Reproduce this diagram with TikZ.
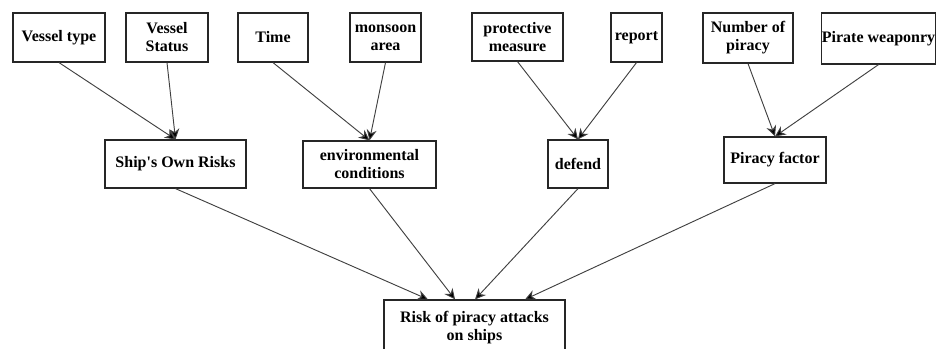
\documentclass[tikz,border=0pt]{standalone}
\usepackage{fontspec}
\setmainfont{Liberation Serif}
\usetikzlibrary{arrows.meta}

\begin{document}
\begin{tikzpicture}[x=0.75pt, y=-0.75pt,
    box/.style={draw=black!85, line width=0.9pt, align=center, inner sep=0pt,
        font=\bfseries\fontsize{12}{13.5}\selectfont},
    link/.style={draw=black!75, line width=0.7pt, -{Stealth[length=8pt, width=7.5pt, fill=black]}}]
    \useasboundingbox (0, 0) rectangle (937, 349);
    \clip (0, 0) rectangle (937, 349);

    \node[box, minimum width=69pt, minimum height=36.75pt] (vtype) at (59, 37.5) {Vessel type};
    \node[box, minimum width=61.5pt, minimum height=36.75pt] (vstatus) at (167, 37.5) {Vessel\\Status};
    \node[box, minimum width=52.5pt, minimum height=36.75pt] (time) at (273, 37.5) {Time};
    \node[box, minimum width=53.25pt, minimum height=36.75pt] (monsoon) at (385.5, 37.5) {monsoon\\area};
    \node[box, minimum width=68.25pt, minimum height=36pt] (protect) at (517.5, 37) {protective\\measure};
    \node[box, minimum width=38.25pt, minimum height=36.75pt] (report) at (636.5, 37.5) {report};
    \node[box, minimum width=67.5pt, minimum height=37.5pt] (numpir) at (748, 38) {Number of\\piracy};
    \node[box, minimum width=84.75pt, minimum height=38.25pt] (weapon) at (878.5, 38.5) {Pirate weaponry};

    \node[box, minimum width=105.75pt, minimum height=36pt] (ownrisk) at (175.5, 164) {Ship\textquotesingle s Own Risks};
    \node[box, minimum width=99.75pt, minimum height=35.25pt] (envcond) at (369.5, 164.5) {environmental\\conditions};
    \node[box, minimum width=45pt, minimum height=36pt] (defend) at (578, 164) {defend};
    \node[box, minimum width=76.5pt, minimum height=34.5pt] (pirfac) at (775, 160) {Piracy factor};

    \node[box, minimum width=135.75pt, minimum height=42pt] (risk) at (474.5, 328) {Risk of piracy attacks\\on ships};

    \draw[link] (vtype.south) -- (ownrisk.north);
    \draw[link] (vstatus.south) -- (ownrisk.north);
    \draw[link] (time.south) -- (envcond.north);
    \draw[link] (monsoon.south) -- (envcond.north);
    \draw[link] (protect.south) -- (defend.north);
    \draw[link] (report.south) -- (defend.north);
    \draw[link] (numpir.south) -- (pirfac.north);
    \draw[link] (weapon.south) -- (pirfac.north);

    \draw[link] (ownrisk.south) -- ([xshift=-34.9pt]risk.north);
    \draw[link] (envcond.south) -- ([xshift=-14.6pt]risk.north);
    \draw[link] (defend.south) -- ([xshift=0.4pt]risk.north);
    \draw[link] (pirfac.south) -- ([xshift=37.9pt]risk.north);
\end{tikzpicture}
\end{document}
